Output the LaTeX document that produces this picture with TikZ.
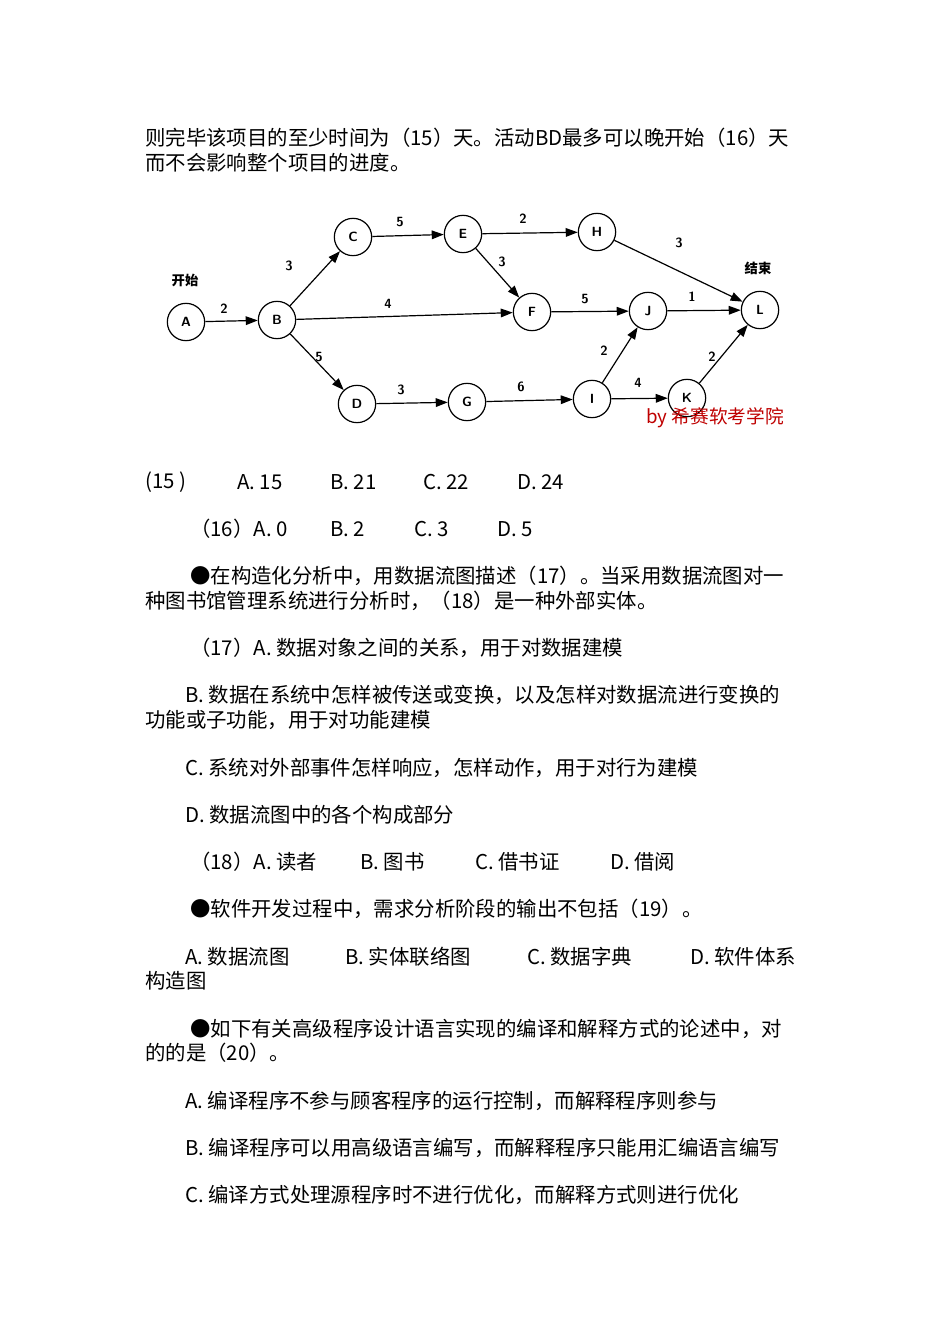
\documentclass[tikz,border=0pt]{standalone}
\usepackage{fontspec}
\setmainfont{Noto Sans CJK SC}
\usetikzlibrary{arrows.meta}
\begin{document}
\begin{tikzpicture}[x=0.75pt,y=-0.75pt,
  txt/.style={anchor=west,inner sep=0,font=\fontsize{15.3}{16}\selectfont},
  ev/.style={draw,circle,minimum size=28pt,inner sep=0,line width=0.9pt,font=\sffamily\bfseries},
  act/.style={-{Triangle[length=9pt,width=6.5pt]},line width=0.9pt},
  lab/.style={font=\sffamily\bfseries,inner sep=0}]
\useasboundingbox (0,0) rectangle (950,1344);
\fill[white] (0,0) rectangle (950,1344);
% text
\node[txt] (t1) at (145,138) {则完毕该项目的至少时间为（15）天。活动BD最多可以晚开始（16）天};
\node[txt] (t2) at (145,163) {而不会影响整个项目的进度。};
\node[txt] (q15) at (145,482) {(15 )};
\node[txt] (q15a) at (237,482) {A. 15};
\node[txt] (q15b) at (330,482) {B. 21};
\node[txt] (q15c) at (423,482) {C. 22};
\node[txt] (q15d) at (517,482) {D. 24};
\node[txt] (q16a) at (190,529) {（16）A. 0};
\node[txt] (q16b) at (330,529) {B. 2};
\node[txt] (q16c) at (414,529) {C. 3};
\node[txt] (q16d) at (497,529) {D. 5};
\node[txt] (t3) at (190,576) {●在构造化分析中，用数据流图描述（17）。当采用数据流图对一};
\node[txt] (t4) at (145,601) {种图书馆管理系统进行分析时，（18）是一种外部实体。};
\node[txt] (t5) at (190,648) {（17）A. 数据对象之间的关系，用于对数据建模};
\node[txt] (t6) at (185,695) {B. 数据在系统中怎样被传送或变换，以及怎样对数据流进行变换的};
\node[txt] (t7) at (145,720) {功能或子功能，用于对功能建模};
\node[txt] (t8) at (185,768) {C. 系统对外部事件怎样响应，怎样动作，用于对行为建模};
\node[txt] (t9) at (185,815) {D. 数据流图中的各个构成部分};
\node[txt] (q18a) at (190,862) {（18）A. 读者};
\node[txt] (q18b) at (360,862) {B. 图书};
\node[txt] (q18c) at (475,862) {C. 借书证};
\node[txt] (q18d) at (610,862) {D. 借阅};
\node[txt] (t10) at (190,909) {●软件开发过程中，需求分析阶段的输出不包括（19）。};
\node[txt] (q19a) at (185,957) {A. 数据流图};
\node[txt] (q19b) at (345,957) {B. 实体联络图};
\node[txt] (q19c) at (527,957) {C. 数据字典};
\node[txt] (q19d) at (690,957) {D. 软件体系};
\node[txt] (t11) at (145,981) {构造图};
\node[txt] (t12) at (190,1029) {●如下有关高级程序设计语言实现的编译和解释方式的论述中，对};
\node[txt] (t13) at (145,1053) {的的是（20）。};
\node[txt] (t14) at (185,1101) {A. 编译程序不参与顾客程序的运行控制，而解释程序则参与};
\node[txt] (t15) at (185,1148) {B. 编译程序可以用高级语言编写，而解释程序只能用汇编语言编写};
\node[txt] (t16) at (185,1195) {C. 编译方式处理源程序时不进行优化，而解释方式则进行优化};
% diagram
\node[ev] (A) at (186,322) {A};
\node[ev] (B) at (277,320) {B};
\node[ev] (C) at (353,237) {C};
\node[ev] (E) at (463,234) {E};
\node[ev] (H) at (597,232) {H};
\node[ev] (F) at (532,312) {F};
\node[ev] (J) at (648,311) {J};
\node[ev] (L) at (760,310) {L};
\node[ev] (D) at (357,404) {D};
\node[ev] (G) at (467,402) {G};
\node[ev] (I) at (592,399) {I};
\node[ev] (K) at (687,398) {K};
\draw[act] (A) -- (B);
\draw[act] (B) -- (C);
\draw[act] (C) -- (E);
\draw[act] (E) -- (H);
\draw[act] (E) -- (F);
\draw[act] (B) -- (F);
\draw[act] (F) -- (J);
\draw[act] (J) -- (L);
\draw[act] (H) -- (L);
\draw[act] (B) -- (D);
\draw[act] (D) -- (G);
\draw[act] (G) -- (I);
\draw[act] (I) -- (K);
\draw[act] (I) -- (J);
\draw[act] (K) -- (L);
\node[lab] (lAB) at (224,309) {2};
\node[lab] (lBC) at (289,266) {3};
\node[lab] (lCE) at (400,222) {5};
\node[lab] (lEH) at (523,219) {2};
\node[lab] (lEF) at (502,262) {3};
\node[lab] (lBF) at (388,304) {4};
\node[lab] (lFJ) at (585,299) {5};
\node[lab] (lJL) at (692,297) {1};
\node[lab] (lHL) at (679,243) {3};
\node[lab] (lBD) at (319,357) {5};
\node[lab] (lDG) at (401,390) {3};
\node[lab] (lGI) at (521,387) {6};
\node[lab] (lIK) at (638,383) {4};
\node[lab] (lIJ) at (604,351) {2};
\node[lab] (lKL) at (712,357) {2};
\node[lab,font=\bfseries] (start) at (185,280) {开始};
\node[lab,font=\bfseries] (end) at (758,268) {结束};
\node[lab,text=red!75!black,font=\fontsize{14}{15}\selectfont] (wm) at (715,418) {by 希赛软考学院};
\end{tikzpicture}
\end{document}
